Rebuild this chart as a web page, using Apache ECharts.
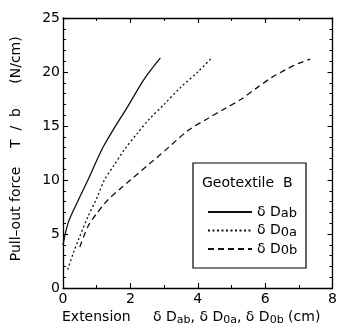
<!DOCTYPE html>
<html><head><meta charset="utf-8">
<script src="https://cdn.jsdelivr.net/npm/echarts@6/dist/echarts.min.js"></script>
<style>html,body{margin:0;padding:0;background:#fff}#c{width:340px;height:331px}</style>
</head><body><div id="c"></div>
<script>
const xTicks = [0, 2, 4, 6, 8];
const yTicks = [0, 5, 10, 15, 20, 25];

const seriesNames = ['Dab', 'D0a', 'D0b'];

const abX = [0, 0.16, 0.45, 0.74, 1.0, 1.2, 1.48, 1.92, 2.4, 2.89];
const abY = [4.0, 6.1, 8.1, 10.0, 11.8, 13.1, 14.6, 16.8, 19.3, 21.3];

const oaX = [0.14, 0.3, 0.45, 0.74, 1.0, 1.23, 1.5, 1.82, 2.2, 2.55, 3.0, 3.5, 4.0, 4.41];
const oaY = [1.7, 3.2, 4.4, 6.6, 8.3, 10.0, 11.3, 12.8, 14.3, 15.6, 17.0, 18.6, 20.0, 21.3];

const obX = [0.5, 0.74, 1.0, 1.33, 1.7, 2.0, 2.6, 2.8, 3.72, 4.3, 4.8, 5.3, 5.78, 6.2, 6.66, 7.0, 7.34];
const obY = [3.8, 5.7, 6.9, 8.15, 9.2, 10.0, 11.6, 12.1, 14.6, 15.7, 16.6, 17.5, 18.6, 19.5, 20.3, 20.8, 21.2];

const FONT = 'DejaVu Sans';
const pair = (xs, ys) => xs.map((x, i) => [x, ys[i]]);

const chart = echarts.init(document.getElementById('c'), null, {renderer: 'canvas'});

function axisCommon(extra) {
  return Object.assign({
    type: 'value',
    axisLine: {show: true, onZero: false, lineStyle: {color: '#000', width: 1.3}},
    axisTick: {show: true, inside: true, length: 5, lineStyle: {color: '#000', width: 1.1}},
    minorTick: {show: true, length: 3, lineStyle: {color: '#000', width: 1}},
    splitLine: {show: false},
    minorSplitLine: {show: false}
  }, extra);
}

const lineStyleBase = {color: '#111', width: 1.3};

chart.setOption({
  animation: false,
  color: ['#111', '#111', '#111'],
  grid: {left: 63, right: 3, top: 18, bottom: 43, containLabel: false},
  xAxis: [
    axisCommon({min: xTicks[0], max: xTicks[xTicks.length - 1], interval: 2, position: 'bottom',
      minorTick: {show: true, splitNumber: 2, length: 3, lineStyle: {color: '#000'}},
      axisLabel: {fontSize: 14, color: '#000', fontFamily: FONT, margin: 4,
        formatter: v => xTicks.includes(v) ? String(v) : ''}}),
    axisCommon({min: xTicks[0], max: xTicks[xTicks.length - 1], interval: 2, position: 'top',
      minorTick: {show: true, splitNumber: 2, length: 3, lineStyle: {color: '#000'}},
      axisLabel: {show: false}})
  ],
  yAxis: [
    axisCommon({min: yTicks[0], max: yTicks[yTicks.length - 1], interval: 5, position: 'left',
      minorTick: {show: true, splitNumber: 5, length: 3, lineStyle: {color: '#000'}},
      axisLabel: {fontSize: 14, color: '#000', fontFamily: FONT, margin: 3,
        formatter: v => yTicks.includes(v) ? String(v) : ''}}),
    axisCommon({min: yTicks[0], max: yTicks[yTicks.length - 1], interval: 5, position: 'right',
      minorTick: {show: true, splitNumber: 5, length: 3, lineStyle: {color: '#000'}},
      axisLabel: {show: false}})
  ],
  legend: {
    show: true,
    z: 20, zlevel: 0,
    orient: 'vertical',
    left: 202, top: 200,
    itemWidth: 44, itemHeight: 10, itemGap: 3,
    data: seriesNames,
    itemStyle: {opacity: 0},
    textStyle: {color: '#000', fontFamily: FONT, fontSize: 14,
      rich: {
        n: {fontSize: 14, fontFamily: FONT, color: '#000'},
        s: {fontSize: 13, fontFamily: FONT, color: '#000', padding: [4, 0, 0, 0]}
      }},
    formatter: name => '{n|δ D}{s|' + name.slice(1) + '}'
  },
  graphic: [
    {type: 'rect', shape: {x: 193, y: 163, width: 113, height: 105},
      style: {fill: '#fff', stroke: '#000', lineWidth: 1.2}, z: 4},
    {type: 'text', x: 202, y: 183, z: 6,
      style: {text: 'Geotextile  B', fill: '#000', font: '14px "' + FONT + '"', verticalAlign: 'middle', align: 'left'}},
    {type: 'text', x: 16, y: 214, rotation: Math.PI / 2, z: 6,
      style: {text: 'Pull–out force', fill: '#000', font: '14px "' + FONT + '"', verticalAlign: 'middle', align: 'center'}},
    {type: 'text', x: 16, y: 128, rotation: Math.PI / 2, z: 6,
      style: {text: 'T  /  b', fill: '#000', font: '14px "' + FONT + '"', verticalAlign: 'middle', align: 'center'}},
    {type: 'text', x: 16, y: 60, rotation: Math.PI / 2, z: 6,
      style: {text: '(N/cm)', fill: '#000', font: '14px "' + FONT + '"', verticalAlign: 'middle', align: 'center'}},
    {type: 'text', x: 62, y: 317, z: 6,
      style: {text: 'Extension', fill: '#000', font: '14px "' + FONT + '"', verticalAlign: 'middle', align: 'left'}},
    {type: 'text', x: 153, y: 317, z: 6,
      style: {
        text: '{n|δ D}{s|ab}{n|, δ D}{s|0a}{n|, δ D}{s|0b}{n| (cm)}',
        verticalAlign: 'middle', align: 'left',
        rich: {
          n: {fontSize: 14, fontFamily: FONT, fill: '#000'},
          s: {fontSize: 11, fontFamily: FONT, fill: '#000', padding: [6, 0, 0, 0]}
        }
      }}
  ],
  series: [
    {name: seriesNames[0], type: 'line', data: pair(abX, abY), showSymbol: false, symbol: 'none', smooth: 0.3,
      itemStyle: {color: '#111'}, lineStyle: Object.assign({type: 'solid'}, lineStyleBase), z: 3},
    {name: seriesNames[1], type: 'line', data: pair(oaX, oaY), showSymbol: false, symbol: 'none', smooth: 0.3,
      itemStyle: {color: '#111'}, lineStyle: Object.assign({type: [2, 2.5]}, lineStyleBase), z: 3},
    {name: seriesNames[2], type: 'line', data: pair(obX, obY), showSymbol: false, symbol: 'none', smooth: 0.3,
      itemStyle: {color: '#111'}, lineStyle: Object.assign({type: [6, 4]}, lineStyleBase), z: 3}
  ]
});
</script></body></html>
